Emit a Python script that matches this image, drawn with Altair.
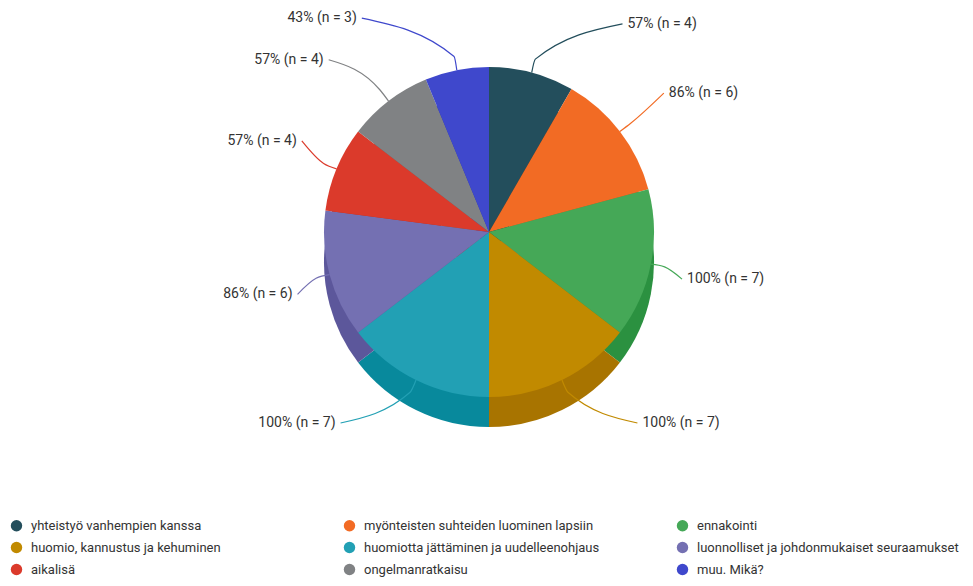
import math
import numpy as np
import pandas as pd
import altair as alt

# ---- data ----
categories = [
    "yhteistyö vanhempien kanssa",
    "myönteisten suhteiden luominen lapsiin",
    "ennakointi",
    "huomio, kannustus ja kehuminen",
    "huomiotta jättäminen ja uudelleenohjaus",
    "luonnolliset ja johdonmukaiset seuraamukset",
    "aikalisä",
    "ongelmanratkaisu",
    "muu. Mikä?",
]
counts = [4, 6, 7, 7, 7, 6, 4, 4, 3]
percents = [57, 86, 100, 100, 100, 86, 57, 57, 43]

top_colors = ["#234e5c", "#f26b24", "#45a857", "#c18a00", "#22a0b4",
              "#7470b2", "#db3a2b", "#808284", "#3f48cc"]
side_colors = ["#183943", "#c9561c", "#2b9140", "#a87400", "#08899c",
               "#5c579b", "#b22d22", "#636466", "#2f37a6"]

# ---- layout constants ----
W, H = 957, 540
CX, CY = 481, 224
R = 165
DEPTH = 30
RX_LAB, RY_LAB, HX_LAB = 195, 242, 46
FONT = "Roboto, Liberation Sans Narrow, DejaVu Sans Condensed, sans-serif"
TXT = "#333333"

df = pd.DataFrame({
    "cat": categories,
    "n": counts,
    "pct": percents,
    "top": top_colors,
    "side": side_colors,
    "idx": range(len(categories)),
})
df["label"] = [f"{p}% (n = {c})" for p, c in zip(percents, counts)]

total = df["n"].sum()
start = df["n"].cumsum() - df["n"]
mid = (start + df["n"] / 2) / total * 2 * math.pi
# spread labels away from the vertical axis (avoid crowding at top / bottom)
spread = np.radians(18) * np.sign(np.sin(mid)) * np.sign(np.cos(mid)) * np.cos(mid) ** 4
lab = mid + spread
sgn = np.sign(np.sin(lab))
df["lx"] = CX + sgn * (RX_LAB * np.abs(np.sin(lab)) + HX_LAB * np.cos(lab) ** 2)
df["ly"] = CY - RY_LAB * np.cos(lab)
df["right"] = np.sin(lab) > 0

rows = []
for i, r in df.iterrows():
    a = mid[i]
    rows.append({"cat": r["cat"], "top": r["top"], "step": 0,
                 "x": CX + R * math.sin(a), "y": CY - R * math.cos(a)})
    rows.append({"cat": r["cat"], "top": r["top"], "step": 1,
                 "x": CX + (R + 14) * math.sin(a), "y": CY - (R + 14) * math.cos(a)})
    rows.append({"cat": r["cat"], "top": r["top"], "step": 2,
                 "x": r["lx"], "y": r["ly"]})
lines_df = pd.DataFrame(rows)

xs = alt.Scale(domain=[0, W], nice=False, zero=False)
ys = alt.Scale(domain=[0, H], nice=False, zero=False, reverse=True)

side = alt.Chart(df).mark_arc(radius=R).encode(
    theta=alt.Theta("n:Q", stack=True),
    color=alt.Color("side:N", scale=None),
    order=alt.Order("idx:Q"),
    x=alt.value(CX),
    y=alt.value(CY + DEPTH),
)

top = alt.Chart(df).mark_arc(radius=R).encode(
    theta=alt.Theta("n:Q", stack=True),
    color=alt.Color(
        "cat:N",
        scale=alt.Scale(domain=categories, range=top_colors),
        legend=alt.Legend(
            title=None, orient="none", legendX=2, legendY=511,
            direction="horizontal",
            columns=3, gridAlign="all", columnPadding=50, rowPadding=8,
            symbolType="circle", symbolSize=130, symbolStrokeWidth=0,
            symbolOpacity=1, labelFont=FONT, labelFontSize=13,
            labelColor=TXT, labelOffset=8, labelLimit=500,
        ),
    ),
    order=alt.Order("idx:Q"),
    x=alt.value(CX),
    y=alt.value(CY),
)

leaders = alt.Chart(lines_df).mark_line(strokeWidth=1.2, interpolate="monotone").encode(
    x=alt.X("x:Q", scale=xs, axis=None),
    y=alt.Y("y:Q", scale=ys, axis=None),
    detail="cat:N",
    order="step:Q",
    color=alt.Color("top:N", scale=None),
)

labels_r = alt.Chart(df).transform_filter("datum.right").mark_text(
    align="left", baseline="middle", dx=5, font=FONT, fontSize=14, color=TXT
).encode(
    x=alt.X("lx:Q", scale=xs, axis=None),
    y=alt.Y("ly:Q", scale=ys, axis=None),
    text="label:N",
)
labels_l = alt.Chart(df).transform_filter("!datum.right").mark_text(
    align="right", baseline="middle", dx=-5, font=FONT, fontSize=14, color=TXT
).encode(
    x=alt.X("lx:Q", scale=xs, axis=None),
    y=alt.Y("ly:Q", scale=ys, axis=None),
    text="label:N",
)

chart = alt.layer(side, top, leaders, labels_r, labels_l).properties(
    width=W, height=H, padding=0
).configure_view(strokeWidth=0)

chart.save("out.html", embed_options={"renderer": "svg", "actions": False})
